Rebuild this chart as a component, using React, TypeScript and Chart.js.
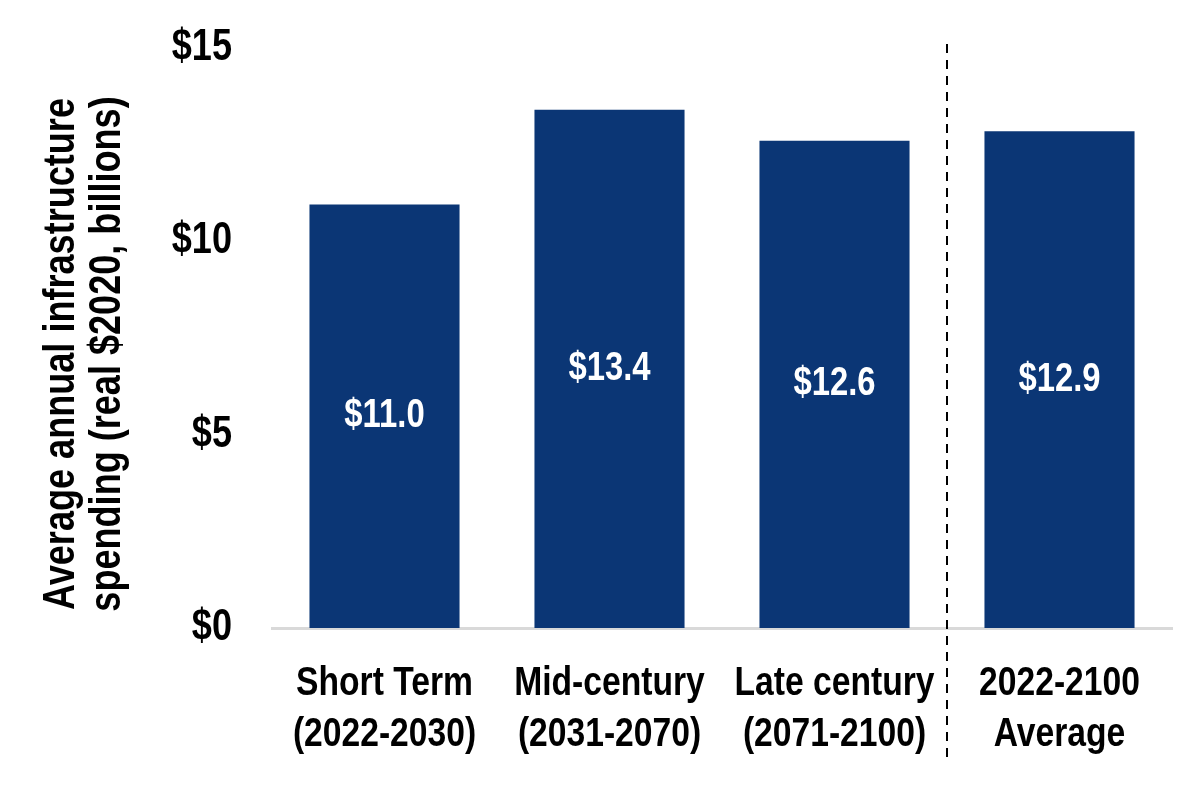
import React, { useEffect, useRef } from "react";
import { Chart, registerables } from "chart.js";

Chart.register(...registerables);

const categories: string[][] = [
  ["Short Term", "(2022-2030)"],
  ["Mid-century", "(2031-2070)"],
  ["Late century", "(2071-2100)"],
  ["2022-2100", "Average"],
];
const values: number[] = [10.95, 13.4, 12.6, 12.85];
const valueLabels: string[] = ["$11.0", "$13.4", "$12.6", "$12.9"];
const yTitle: string[] = ["Average annual infrastructure", "spending (real $2020, billions)"];

const FONT = "'Liberation Sans', Arial, sans-serif";
const NARROW = 0.82;
const BAR = "#0B3675";

export default function App() {
  const ref = useRef<HTMLCanvasElement | null>(null);

  useEffect(() => {
    if (!ref.current) return;
    const ctx0: any = ref.current.getContext("2d");
    // emulate a narrow face by compressing glyphs horizontally around the anchor
    const origFill = ctx0.fillText.bind(ctx0);
    ctx0.fillText = (text: string, x: number, y: number, maxW?: number) => {
      ctx0.save();
      ctx0.translate(x, y);
      ctx0.scale(NARROW, 1);
      if (maxW !== undefined) origFill(text, 0, 0, maxW / NARROW);
      else origFill(text, 0, 0);
      ctx0.restore();
    };

    const labelPlugin = {
      id: "valLabels",
      afterDatasetsDraw(chart: any) {
        const ctx = chart.ctx;
        const meta = chart.getDatasetMeta(0);
        ctx.save();
        ctx.fillStyle = "#ffffff";
        ctx.font = `bold 40px ${FONT}`;
        ctx.textAlign = "center";
        ctx.textBaseline = "middle";
        meta.data.forEach((bar: any, i: number) => {
          ctx.fillText(valueLabels[i], bar.x, (bar.y + bar.base) / 2);
        });
        ctx.restore();
      },
    };
    const dividerPlugin = {
      id: "divider",
      afterDraw(chart: any) {
        const ctx = chart.ctx;
        const x = chart.scales.x;
        const px = Math.round((x.getPixelForValue(2) + x.getPixelForValue(3)) / 2);
        ctx.save();
        ctx.strokeStyle = "#000000";
        ctx.lineWidth = 2;
        ctx.setLineDash([9, 7]);
        ctx.beginPath();
        ctx.moveTo(px, chart.chartArea.top - 4);
        ctx.lineTo(px, 758);
        ctx.stroke();
        ctx.restore();
      },
    };
    const titlePlugin = {
      id: "ytitle",
      afterDraw(chart: any) {
        const ctx = chart.ctx;
        ctx.save();
        ctx.fillStyle = "#000000";
        ctx.font = `bold 44px ${FONT}`;
        ctx.textAlign = "center";
        ctx.textBaseline = "alphabetic";
        ctx.translate(0, 354);
        ctx.rotate(-Math.PI / 2);
        ctx.fillText(yTitle[0], 0, 74);
        ctx.fillText(yTitle[1], 0, 120);
        ctx.restore();
      },
    };
    const chart = new Chart(ref.current, {
      type: "bar",
      data: {
        labels: categories,
        datasets: [
          {
            data: values,
            backgroundColor: BAR,
            barPercentage: 0.667,
            categoryPercentage: 1,
          },
        ],
      },
      options: {
        animation: false,
        responsive: false,
        maintainAspectRatio: false,
        layout: { padding: { top: 48, right: 19, left: 0, bottom: 0 } },
        plugins: {
          legend: { display: false },
          tooltip: { enabled: false },
        },
        scales: {
          x: {
            grid: { display: false, drawTicks: false },
            border: { display: true, color: "#d9d9d9", width: 3 },
            ticks: {
              color: "#000000",
              font: { family: FONT, size: 41, weight: "bold", lineHeight: 1.25 },
              padding: 30,
              maxRotation: 0,
              autoSkip: false,
            },
            afterFit(scale: any) {
              scale.height = 164;
              scale.paddingLeft = 0;
              scale.paddingRight = 0;
            },
          },
          y: {
            min: 0,
            max: 15,
            grid: { display: false, drawTicks: false },
            border: { display: false },
            ticks: {
              stepSize: 5,
              color: "#000000",
              font: { family: FONT, size: 44, weight: "bold" },
              padding: 40,
              callback: (v: any) => "$" + v,
            },
            afterFit(scale: any) {
              scale.width = 272;
              scale.paddingTop = 0;
              scale.paddingBottom = 0;
            },
          },
        },
      },
      plugins: [labelPlugin, dividerPlugin, titlePlugin],
    });
    return () => {
      chart.destroy();
      ctx0.fillText = origFill;
    };
  }, []);

  return (
    <div style={{ position: "fixed", left: 0, top: 0, width: 1191, height: 792, background: "#fff" }}>
      <canvas ref={ref} width={1191} height={792} style={{ width: 1191, height: 792 }} />
    </div>
  );
}
